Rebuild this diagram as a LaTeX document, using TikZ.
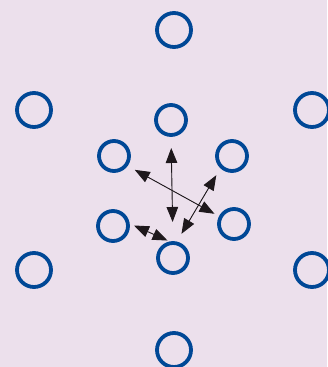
\documentclass[tikz,border=0pt]{standalone}
\usepackage{xcolor}
\usetikzlibrary{arrows.meta, positioning}
\definecolor{bgpink}{RGB}{236,224,236}
\definecolor{ringblue}{RGB}{0,72,150}
\definecolor{arrowblack}{RGB}{30,24,28}

\begin{document}
\begin{tikzpicture}[
        x=1pt, y=-1pt,
        ring/.style={circle, draw=ringblue, line width=3.8pt, minimum size=34pt, inner sep=0pt, outer sep=0pt},
        smallring/.style={ring, minimum size=30pt},
        arr/.style={{Triangle[length=15pt, width=11.5pt]}-{Triangle[length=15pt, width=11.5pt]}, draw=arrowblack, fill=arrowblack, line width=0.9pt}
    ]
    \fill[bgpink] (0,0) rectangle (327,367);
    \useasboundingbox (0,0) rectangle (327,367);

    % outer ring
    \node[ring] (otop) at (174,30) {};
    \node[ring] (oul) at (34,110) {};
    \node[ring] (our) at (312,110) {};
    \node[ring] (oll) at (34,270) {};
    \node[ring] (olr) at (312,270) {};
    \node[ring] (obot) at (174,350) {};

    % inner ring
    \node[smallring] (itop) at (171,120) {};
    \node[smallring] (iul) at (114,156) {};
    \node[smallring] (iur) at (232,156) {};
    \node[smallring] (ill) at (113,226) {};
    \node[smallring] (ilr) at (234,224) {};
    \node[smallring] (ibot) at (173,258) {};

    \draw[arr, shorten <=13pt, shorten >=21pt] (itop.south) -- (ibot.north);
    \draw[arr, shorten <=10pt, shorten >=7pt] (iul.-37) -- (ilr.153);
    \draw[arr, shorten <=10pt, shorten >=11pt] (iur.225) -- (ibot.79);
    \draw[arr, shorten <=7pt, shorten >=6pt] (ill.13) -- (ibot.north);
\end{tikzpicture}
\end{document}
